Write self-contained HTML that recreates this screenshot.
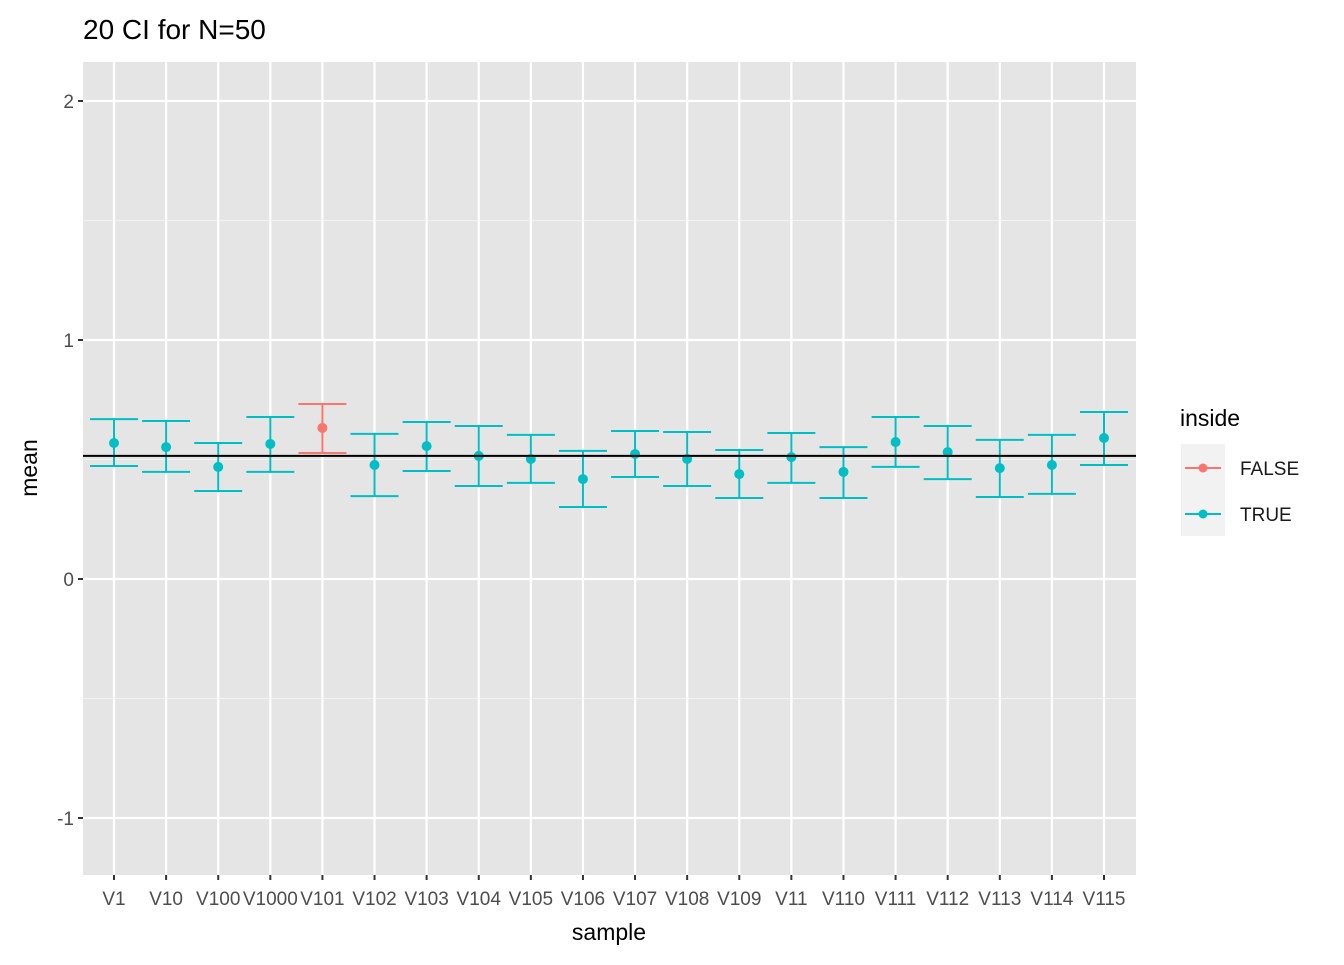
<!DOCTYPE html>
<html><head><meta charset="utf-8"><style>
body{margin:0;background:#fff}
svg text{font-family:"Liberation Sans",Arial,sans-serif}
</style></head><body>
<svg id="chart" width="1344" height="960" xmlns="http://www.w3.org/2000/svg">
<rect width="1344" height="960" fill="#fff"/>
<text x="83" y="39" font-size="28" fill="#000">20 CI for N=50</text>
<rect x="83" y="62" width="1053" height="813" fill="#e5e5e5"/>
<g id="grid"></g>
<g id="marks"></g>
<g id="axes"></g>
<text x="609" y="940" font-size="23" text-anchor="middle">sample</text>
<text transform="translate(37,468) rotate(-90)" font-size="23" text-anchor="middle">mean</text>
<g>
<text x="1180" y="426" font-size="23">inside</text>
<rect x="1181" y="444" width="44" height="92" fill="#f2f2f2"/>
<g>
<line x1="1185" x2="1221" y1="468" y2="468" stroke="#F8766D" stroke-width="2"/>
<circle cx="1203" cy="468" r="4.5" fill="#F8766D"/>
<text x="1240" y="475" font-size="19" fill="#1a1a1a">FALSE</text></g>
<g>
<line x1="1185" x2="1221" y1="514" y2="514" stroke="#00BFC4" stroke-width="2"/>
<circle cx="1203" cy="514" r="4.5" fill="#00BFC4"/>
<text x="1240" y="521" font-size="19" fill="#1a1a1a">TRUE</text></g>
</g>
</svg>
<script>
const categories=["V1","V10","V100","V1000","V101","V102","V103","V104","V105","V106","V107","V108","V109","V11","V110","V111","V112","V113","V114","V115"];
const means=[0.569,0.552,0.469,0.565,0.632,0.477,0.556,0.515,0.502,0.418,0.523,0.502,0.439,0.510,0.448,0.573,0.531,0.464,0.477,0.590];
const lowers=[0.473,0.448,0.368,0.448,0.527,0.347,0.452,0.389,0.402,0.301,0.427,0.389,0.339,0.402,0.339,0.469,0.418,0.343,0.356,0.477];
const uppers=[0.669,0.661,0.569,0.678,0.732,0.607,0.657,0.640,0.603,0.536,0.619,0.615,0.540,0.611,0.552,0.678,0.640,0.582,0.603,0.699];
const inside=[true,true,true,true,false,true,true,true,true,true,true,true,true,true,true,true,true,true,true,true];
const refValue=0.515;
const yTicks=[-1,0,1,2];
const NS="http://www.w3.org/2000/svg";
const px0=83,px1=1136;
const X=i=>114+i*(1104-114)/(categories.length-1);
const Y=v=>579-v*239;
function mk(tag,attrs,parent){const e=document.createElementNS(NS,tag);for(const k in attrs)e.setAttribute(k,attrs[k]);parent.appendChild(e);return e;}
const grid=document.getElementById('grid'),marks=document.getElementById('marks'),axes=document.getElementById('axes');
for(let i=0;i<yTicks.length-1;i++){const m=(yTicks[i]+yTicks[i+1])/2;
 const l=mk('line',{x1:px0,x2:px1,y1:Y(m),y2:Y(m),stroke:'#f2f2f2','stroke-width':1.1},grid);
 
 }
yTicks.forEach(t=>{
 const l=mk('line',{x1:px0,x2:px1,y1:Y(t),y2:Y(t),stroke:'#fff','stroke-width':2.2},grid);
 
 
 const tk=mk('line',{x1:px0-5,x2:px0,y1:Y(t),y2:Y(t),stroke:'#333','stroke-width':2},axes);
 
 
 const tx=mk('text',{x:px0-9,y:Y(t)+7,'font-size':19,'text-anchor':'end',fill:'#4d4d4d'},axes);
 tx.textContent=t;
 
 
});
categories.forEach((c,i)=>{
 const l=mk('line',{x1:X(i),x2:X(i),y1:62,y2:875,stroke:'#fff','stroke-width':2.2},grid);
 
 
 const tk=mk('line',{x1:X(i),x2:X(i),y1:875,y2:880,stroke:'#333','stroke-width':2},axes);
 
 
 const tx=mk('text',{x:X(i),y:905,'font-size':19,'text-anchor':'middle',fill:'#4d4d4d'},axes);
 tx.textContent=c;
 
 
});
categories.forEach((c,i)=>{
 const col=inside[i]?'#00BFC4':'#F8766D';
 const g=mk('g',{},marks);
 
 
 const x=X(i),hw=24;
 mk('line',{x1:x,x2:x,y1:Y(uppers[i]),y2:Y(lowers[i]),stroke:col,'stroke-width':2},g);
 mk('line',{x1:x-hw,x2:x+hw,y1:Y(uppers[i]),y2:Y(uppers[i]),stroke:col,'stroke-width':2},g);
 mk('line',{x1:x-hw,x2:x+hw,y1:Y(lowers[i]),y2:Y(lowers[i]),stroke:col,'stroke-width':2},g);
 const p=mk('circle',{cx:x,cy:Y(means[i]),r:5,fill:col},marks);
 
 
});
const r=mk('line',{x1:px0,x2:px1,y1:Y(refValue),y2:Y(refValue),stroke:'#000','stroke-width':2},marks);


</script>
</body></html>
